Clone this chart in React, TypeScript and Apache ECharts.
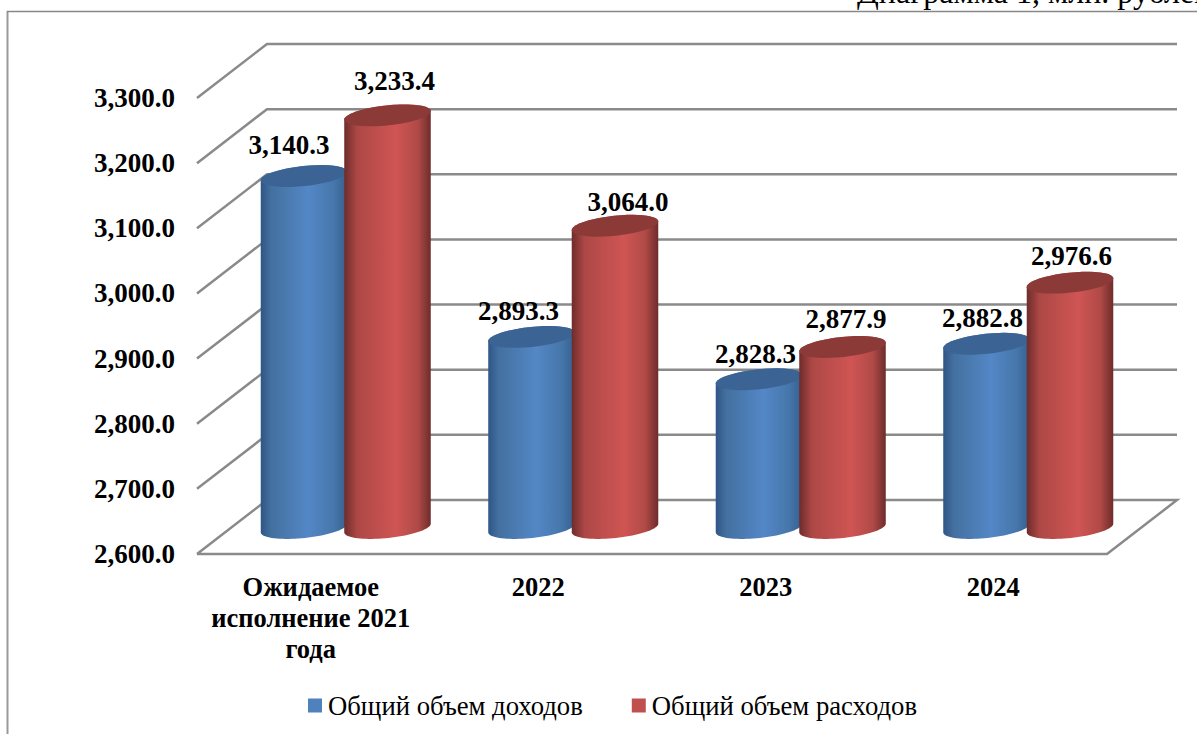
import React, { useEffect, useRef } from "react";
import * as echarts from "echarts";

const categories = ["Ожидаемое\nисполнение 2021\nгода", "2022", "2023", "2024"];
const incomeValues = [3140.3, 2893.3, 2828.3, 2882.8];
const expenseValues = [3233.4, 3064.0, 2877.9, 2976.6];
const yTicks = [2600, 2700, 2800, 2900, 3000, 3100, 3200, 3300];
const incomeName = "Общий объем доходов";
const expenseName = "Общий объем расходов";
const caption = "Диаграмма 1, млн. рублей";

// Layout of the pseudo-3D scene (pixels)
const DEPTH_X = 70;
const DEPTH_Y = -54;
const BAR_SHIFT = 41.75;
const RX = 43.5;
const RY = 10;
const TILT = -6;
const BASE_SHIFT_Y = -26;
const ARC_STEPS = 40;
const incomeLabelOffsets = [[-15, -31], [-13, -26], [-3.5, -25], [-4, -26]];
const expenseLabelOffsets = [[7, -34], [13, -24], [3.5, -28], [1.5, -27]];

const fmt = (v: number) =>
  v.toLocaleString("en-US", { minimumFractionDigits: 1, maximumFractionDigits: 1 });

const BOLD = 'bold 27px "Liberation Serif"';
const GRID_COLOR = "#8a8a8a";

// Point on a tilted ellipse, angle in radians (0 = right end, PI/2 = lower side on screen)
function ellipsePoint(cx: number, cy: number, a: number) {
  const rad = (TILT * Math.PI) / 180;
  const ex = RX * Math.cos(a);
  const ey = RY * Math.sin(a);
  return [cx + ex * Math.cos(rad) - ey * Math.sin(rad), cy + ex * Math.sin(rad) + ey * Math.cos(rad)];
}

function arc(cx: number, cy: number, from: number, to: number) {
  const pts: number[][] = [];
  for (let i = 0; i <= ARC_STEPS; i++) {
    pts.push(ellipsePoint(cx, cy, from + ((to - from) * i) / ARC_STEPS));
  }
  return pts;
}

function cylinderRenderer(
  shift: number,
  grad: [number, string][],
  capColor: string,
  offsets: number[][]
) {
  return (params: any, api: any) => {
    const idx = api.value(0);
    const val = api.value(1);
    const top = api.coord([idx, val]);
    const base = api.coord([idx, 2600]);
    const cx = top[0] + DEPTH_X / 2 + shift;
    const ty = top[1] + BASE_SHIFT_Y;
    const by = base[1] + BASE_SHIFT_Y;
    // Side: lower half of the base ellipse (left to right), then up and the top half of the cap back
    const side = [...arc(cx, by, Math.PI, 0), ...arc(cx, ty, 0, -Math.PI)];
    const cap = arc(cx, ty, 0, Math.PI * 2);
    const off = offsets[params.dataIndex];
    return {
      type: "group",
      children: [
        {
          type: "polygon",
          shape: { points: side },
          style: {
            fill: new echarts.graphic.LinearGradient(
              0, 0, 1, 0,
              grad.map(([offset, color]) => ({ offset, color }))
            ),
          },
        },
        {
          type: "polygon",
          shape: { points: cap },
          style: { fill: capColor },
        },
        {
          type: "text",
          z2: 20,
          style: {
            text: fmt(val),
            x: cx + off[0],
            y: ty + off[1],
            align: "center",
            verticalAlign: "middle",
            font: BOLD,
            fill: "#000",
          },
        },
      ],
    };
  };
}

export default function App() {
  const ref = useRef<HTMLDivElement>(null);
  useEffect(() => {
    if (!ref.current) return;
    const chart = echarts.init(ref.current, undefined, { renderer: "svg" });
    chart.setOption({
      animation: false,
      backgroundColor: "#fff",
      grid: { left: 197, width: 910, top: 98, height: 456, containLabel: false },
      legend: {
        left: 303,
        top: 687,
        icon: "rect",
        itemWidth: 14,
        itemHeight: 14,
        itemGap: 49,
        selectedMode: false,
        data: [incomeName, expenseName],
        textStyle: { fontFamily: "Liberation Serif", fontSize: 26.7, color: "#000", padding: [0, 0, 0, 1] },
      },
      xAxis: {
        type: "category",
        data: categories,
        axisLine: { show: false },
        axisTick: { show: false },
        splitLine: { show: false },
        axisLabel: {
          margin: 17,
          interval: 0,
          color: "#000",
          fontFamily: "Liberation Serif",
          fontWeight: "bold",
          fontSize: 26.5,
          lineHeight: 31,
          align: "center",
        },
      },
      yAxis: {
        type: "value",
        min: 2600,
        max: 3300,
        interval: 100,
        axisLine: { show: false },
        axisTick: { show: false },
        splitLine: { show: false },
        axisLabel: {
          margin: 22,
          color: "#000",
          fontFamily: "Liberation Serif",
          fontWeight: "bold",
          fontSize: 27,
          formatter: (v: number) => fmt(v),
        },
      },
      graphic: [
        {
          type: "line",
          shape: { x1: 7.5, y1: 11, x2: 7.5, y2: 734 },
          style: { stroke: "#999", lineWidth: 2 },
        },
        {
          type: "line",
          shape: { x1: 7, y1: 11.5, x2: 1197, y2: 11.5 },
          style: { stroke: "#888", lineWidth: 1.5 },
        },
        {
          type: "text",
          x: 857,
          y: 8,
          style: {
            text: caption,
            font: '32px "Liberation Serif"',
            fill: "#000",
            align: "left",
            verticalAlign: "bottom",
          },
        },
      ],
      series: [
        {
          type: "custom",
          name: "walls",
          silent: true,
          clip: false,
          z: 1,
          encode: { x: -1, y: 0 },
          data: yTicks.map((t) => [t]),
          renderItem: (params: any, api: any) => {
            const t = api.value(0);
            const y = api.coord([0, t])[1];
            const x0 = params.coordSys.x;
            const x1 = x0 + params.coordSys.width;
            const pts: number[][] = [
              [x0, y],
              [x0 + DEPTH_X, y + DEPTH_Y],
              [x1 + DEPTH_X, y + DEPTH_Y],
            ];
            if (t === yTicks[0]) pts.push([x1, y], [x0, y]);
            return {
              type: "polyline",
              shape: { points: pts },
              style: { stroke: GRID_COLOR, lineWidth: 2.5, fill: "none" },
            };
          },
        },
        {
          type: "custom",
          name: incomeName,
          silent: true,
          clip: false,
          z: 2,
          itemStyle: { color: "#4f81bd" },
          encode: { x: 0, y: 1 },
          data: incomeValues.map((v, i) => [i, v]),
          renderItem: cylinderRenderer(
            -BAR_SHIFT,
            [[0, "#2f5585"], [0.12, "#43709f"], [0.55, "#5387c6"], [0.85, "#4676aa"], [1, "#355f90"]],
            "#3b6494",
            incomeLabelOffsets
          ),
        },
        {
          type: "custom",
          name: expenseName,
          silent: true,
          clip: false,
          z: 3,
          itemStyle: { color: "#c0504d" },
          encode: { x: 0, y: 1 },
          data: expenseValues.map((v, i) => [i, v]),
          renderItem: cylinderRenderer(
            BAR_SHIFT,
            [[0, "#6e2c2b"], [0.15, "#ad4846"], [0.6, "#cf5553"], [0.85, "#b04a47"], [1, "#6e2c2b"]],
            "#8c3a38",
            expenseLabelOffsets
          ),
        },
      ],
    });
    return () => chart.dispose();
  }, []);
  return (
    <div
      ref={ref}
      style={{ position: "absolute", left: 0, top: 0, width: 1197, height: 734, overflow: "hidden" }}
    />
  );
}
